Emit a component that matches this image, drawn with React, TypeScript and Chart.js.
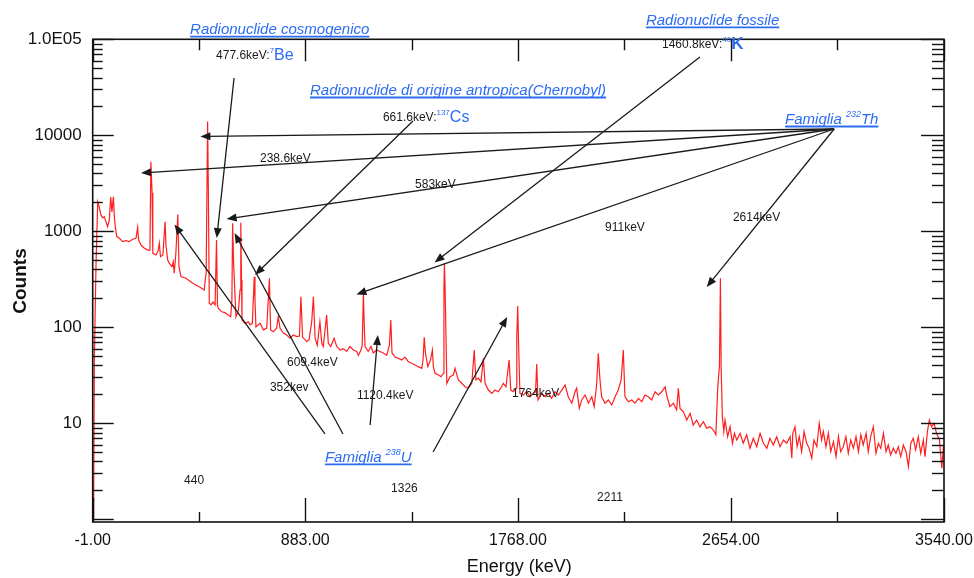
import React, { useEffect, useRef } from 'react';
import { Chart, registerables } from 'chart.js';

Chart.register(...registerables);

// ---- Spectrum (energy in keV, counts per channel) ----
const energyKeV = [
  2, 6, 13, 20, 26, 33, 41, 47, 54, 61, 68, 74, 79, 85, 89, 93, 99, 110, 124, 137,
  151, 165, 179, 186, 190, 200, 214, 228, 237, 241, 246, 249, 262, 271, 276, 281, 291, 300, 304, 311,
  318, 329, 334, 338, 345, 353, 358, 366, 387, 415, 442, 463, 467, 471, 477, 480, 484, 491, 499, 508,
  514, 518, 521, 536, 549, 563, 573, 578, 581, 585, 595, 605, 612, 615, 618, 620, 632, 646, 653, 663,
  671, 674, 678, 695, 709, 723, 734, 739, 750, 764, 771, 778, 792, 806, 820, 833, 848, 859, 865, 872,
  889, 899, 910, 917, 924, 933, 944, 952, 958, 972, 979, 989, 1003, 1014, 1028, 1041, 1055, 1069, 1083, 1097,
  1104, 1115, 1120, 1125, 1129, 1132, 1145, 1157, 1166, 1180, 1194, 1208, 1222, 1233, 1239, 1244, 1257, 1270, 1284, 1298,
  1312, 1326, 1340, 1353, 1368, 1373, 1378, 1383, 1393, 1404, 1412, 1416, 1423, 1437, 1448, 1457, 1460, 1462, 1465, 1472,
  1485, 1499, 1506, 1520, 1534, 1548, 1561, 1576, 1586, 1593, 1603, 1614, 1624, 1631, 1645, 1659, 1672, 1686, 1700, 1707,
  1718, 1731, 1738, 1749, 1760, 1763, 1767, 1770, 1776, 1790, 1804, 1818, 1832, 1841, 1846, 1851, 1867, 1881, 1894, 1908,
  1922, 1936, 1950, 1964, 1977, 1992, 2005, 2012, 2023, 2033, 2047, 2061, 2075, 2085, 2095, 2102, 2109, 2116, 2130, 2144,
  2158, 2172, 2185, 2197, 2206, 2213, 2227, 2241, 2255, 2269, 2283, 2296, 2310, 2324, 2338, 2352, 2366, 2380, 2388, 2400,
  2414, 2428, 2435, 2442, 2456, 2470, 2484, 2497, 2511, 2525, 2539, 2553, 2567, 2581, 2591, 2599, 2606, 2610, 2613, 2618,
  2624, 2629, 2640, 2650, 2660, 2668, 2678, 2692, 2705, 2719, 2733, 2747, 2761, 2775, 2789, 2803, 2816, 2830, 2844, 2858,
  2872, 2886, 2900, 2907, 2911, 2920, 2929, 2938, 2948, 2958, 2969, 2979, 2990, 2999, 3011, 3021, 3031, 3038, 3049, 3059,
  3069, 3080, 3091, 3101, 3110, 3121, 3132, 3142, 3152, 3163, 3174, 3184, 3194, 3204, 3216, 3225, 3235, 3246, 3257, 3267,
  3277, 3288, 3299, 3308, 3318, 3329, 3340, 3350, 3360, 3371, 3382, 3392, 3402, 3412, 3422, 3433, 3443, 3454, 3461, 3471,
  3479, 3488, 3499, 3509, 3521, 3531, 3538,
];

const counts = [
  0.5, 48, 480, 2030, 1800, 1480, 1380, 1420, 1260, 1120, 1310, 2280, 1590, 2290, 1420, 1120, 880, 846, 780, 798,
  780, 826, 846, 1100, 811, 719, 665, 638, 638, 5310, 2510, 590, 566, 623, 750, 543, 566, 1260, 703, 502,
  464, 428, 482, 365, 594, 1500, 428, 337, 324, 287, 265, 245, 311, 368, 13900, 2690, 178, 171, 183, 171,
  811, 171, 158, 145, 142, 134, 129, 192, 1210, 468, 129, 151, 245, 1230, 311, 119, 110, 114, 106, 110,
  337, 192, 101, 110, 94, 98, 324, 94, 90, 98, 129, 98, 87, 83, 77, 83, 80, 81, 208, 79,
  71, 74, 114, 208, 77, 65, 114, 68, 63, 134, 68, 63, 77, 63, 58, 60, 56, 63, 58, 56,
  51, 58, 65, 226, 94, 63, 56, 63, 54, 58, 56, 54, 51, 65, 119, 54, 49, 47.5, 45.6, 49,
  43.8, 42.2, 40.5, 38.9, 37.4, 45.6, 78.7, 54, 38.9, 45.6, 58, 38.9, 33.2, 31.8, 30.6, 33, 257, 464, 245, 26.1,
  30.6, 31.8, 37.4, 28.3, 26.1, 24, 23.2, 26.1, 58, 28.3, 29.6, 27, 47.5, 26.1, 22.2, 20.5, 22.2, 21.3, 24, 26.1,
  24, 45.6, 22.2, 21.3, 23.2, 80, 167, 74, 20.5, 19.7, 21.3, 18.9, 20.5, 21.2, 41.5, 17.5, 20.5, 18.9, 20.5, 18.2,
  21.3, 19.7, 22.2, 25.1, 18.9, 16.2, 21.3, 23.2, 14.3, 17.5, 19.7, 16.2, 18.9, 14.9, 25.1, 53.6, 28.3, 18.9, 16.2, 17.5,
  15.5, 18.9, 22.2, 28.3, 58, 18.9, 16.8, 17.5, 16.2, 18.2, 16.8, 19.7, 18.9, 17.5, 21.3, 19.7, 21.3, 24, 18.9, 14.9,
  16.2, 13.8, 23.2, 14.3, 13.2, 10.8, 12.7, 9.6, 10.8, 9.2, 10.4, 8.9, 9.2, 8.5, 7.6, 24, 39.5, 324, 38.9, 11.7,
  8.2, 10.8, 7.25, 9.2, 6.19, 7.87, 6.7, 7.87, 6.19, 7.6, 5.49, 6.98, 5.7, 7.87, 6.19, 5.49, 6.98, 5.94, 7.25, 5.7,
  6.7, 6.19, 7.25, 4.32, 7.87, 9.2, 5.7, 7.25, 5.06, 8.2, 6.19, 5.49, 4.32, 6.7, 5.7, 10, 6.7, 8.2, 5.7, 7.87,
  5.06, 6.43, 4.49, 7.25, 5.06, 5.7, 7.25, 4.87, 6.7, 5.49, 7.25, 5.06, 7.6, 5.94, 7.87, 5.06, 7.25, 9.2, 4.87, 6.19,
  5.49, 7.87, 5.06, 5.94, 4.68, 5.49, 4.87, 5.7, 4.49, 5.94, 5.06, 3.53, 6.19, 6.98, 5.3, 7.25, 4.87, 6.7, 4.49, 8.2,
  10.8, 9.2, 10, 7.87, 6.7, 3.4, 5.94,
];

// ---- Axes ----
const xMin = -1;
const xMax = 3540;
const yMin = 0.937;
const yMax = 100000;
const xMajorTicks = [-1, 883, 1768, 2654, 3540];
const xMajorLabels = ['-1.00', '883.00', '1768.00', '2654.00', '3540.00'];
const xMinorTicks = [441, 1326, 2211, 3097];
const yDecades = [1, 10, 100, 1000, 10000, 100000];
const yDecadeLabels = ['', '10', '100', '1000', '10000', '1.0E05'];
const yMinorSteps = [2, 3, 4, 5, 6, 7, 8, 9];

// ---- Annotations (anchored in keV / counts) ----
const BLUE = '#2b6cf2';
const INK = '#1a1a1a';

type Run = { t: string; size: number; color?: string; italic?: boolean; bold?: boolean; rise?: number };
type Note = { e: number; c: number; runs: Run[]; underline?: boolean };

const titleNotes: Note[] = [
  { e: 404, c: 131000, underline: true, runs: [{ t: 'Radionuclide cosmogenico', size: 15 }] },
  { e: 2300, c: 163000, underline: true, runs: [{ t: 'Radionuclide fossile', size: 15 }] },
  { e: 903, c: 30350, underline: true, runs: [{ t: 'Radionuclide di origine antropica(Chernobyl)', size: 15 }] },
  { e: 2879, c: 15140, underline: true, runs: [{ t: 'Famiglia ', size: 15 }, { t: '232', size: 9, rise: -5 }, { t: 'Th', size: 15 }] },
  { e: 965, c: 4.57, underline: true, runs: [{ t: 'Famiglia ', size: 15 }, { t: '238', size: 9, rise: -5 }, { t: 'U', size: 15 }] },
];

const peakNotes: Note[] = [
  { e: 512, c: 68600, runs: [{ t: '477.6keV:', size: 12 }, { t: '7', size: 8, color: BLUE, rise: -5 }, { t: 'Be', size: 16, color: BLUE }] },
  { e: 2367, c: 89350, runs: [{ t: '1460.8keV:', size: 12 }, { t: '40', size: 8, color: BLUE, rise: -5 }, { t: 'K', size: 17, color: BLUE, bold: true }] },
  { e: 1206, c: 15520, runs: [{ t: '661.6keV:', size: 12 }, { t: '137', size: 8, color: BLUE, rise: -5 }, { t: 'Cs', size: 16, color: BLUE }] },
  { e: 695, c: 5800, runs: [{ t: '238.6keV', size: 12 }] },
  { e: 1340, c: 3110, runs: [{ t: '583keV', size: 12 }] },
  { e: 2130, c: 1109, runs: [{ t: '911keV', size: 12 }] },
  { e: 2662, c: 1409, runs: [{ t: '2614keV', size: 12 }] },
  { e: 807, c: 43.5, runs: [{ t: '609.4keV', size: 12 }] },
  { e: 736, c: 23.9, runs: [{ t: '352kev', size: 12 }] },
  { e: 1098, c: 19.7, runs: [{ t: '1120.4keV', size: 12 }] },
  { e: 1743, c: 20.7, runs: [{ t: '1764keV', size: 12 }] },
  { e: 379, c: 2.57, runs: [{ t: '440', size: 12 }] },
  { e: 1240, c: 2.12, runs: [{ t: '1326', size: 12 }] },
  { e: 2097, c: 1.71, runs: [{ t: '2211', size: 12 }] },
];

const arrowNotes: { from: [number, number]; to: [number, number] }[] = [
  { from: [3083, 11630], to: [447, 9720] },
  { from: [3083, 11630], to: [200, 4050] },
  { from: [3083, 11630], to: [556, 1343] },
  { from: [3083, 11630], to: [1096, 220] },
  { from: [3083, 11630], to: [2553, 263] },
  { from: [965, 7.74], to: [339, 1177] },
  { from: [1040, 7.74], to: [589, 960] },
  { from: [1153, 9.6], to: [1185, 83] },
  { from: [1415, 5.02], to: [1723, 128] },
  { from: [587, 39530], to: [515, 851] },
  { from: [1331, 14090], to: [674, 351] },
  { from: [2525, 65440], to: [1421, 473] },
];

const FONT = '"Liberation Sans", Arial, Helvetica, sans-serif';

function fontOf(r: Run, forceItalic: boolean) {
  return `${forceItalic || r.italic ? 'italic ' : ''}${r.bold ? 'bold ' : ''}${r.size}px ${FONT}`;
}

const decorPlugin = {
  id: 'decor',
  afterDraw(chart: any) {
    const { ctx, chartArea: a, scales } = chart;
    const xs = scales.x;
    const ys = scales.y;
    const seg = (x1: number, y1: number, x2: number, y2: number) => {
      ctx.beginPath();
      ctx.moveTo(x1, y1);
      ctx.lineTo(x2, y2);
      ctx.stroke();
    };
    ctx.save();

    // frame
    ctx.strokeStyle = '#111';
    ctx.lineWidth = 1.6;
    ctx.strokeRect(a.left, a.top, a.right - a.left, a.bottom - a.top);

    // y ticks (inward, both sides)
    ctx.lineWidth = 1.4;
    yDecades.forEach((d) => {
      const vals = [{ v: d, major: true }, ...yMinorSteps.map((m) => ({ v: d * m, major: false }))];
      vals.forEach(({ v, major }) => {
        if (v < yMin || v > yMax) return;
        const py = Math.round(ys.getPixelForValue(v)) + 0.5;
        seg(a.left, py, a.left + (major ? 21 : 10), py);
        seg(a.right, py, a.right - (major ? 23 : 12), py);
      });
    });

    // x ticks (inward, top and bottom)
    xMajorTicks.forEach((v) => {
      const px = Math.round(xs.getPixelForValue(v)) + 0.5;
      seg(px, a.bottom, px, a.bottom - 24);
      seg(px, a.top, px, a.top + 22);
    });
    xMinorTicks.forEach((v) => {
      const px = Math.round(xs.getPixelForValue(v)) + 0.5;
      seg(px, a.bottom, px, a.bottom - 10);
      seg(px, a.top, px, a.top + 11);
    });

    // tick labels
    ctx.fillStyle = '#111';
    ctx.font = `17px ${FONT}`;
    ctx.textAlign = 'right';
    ctx.textBaseline = 'middle';
    yDecades.forEach((d, i) => {
      if (!yDecadeLabels[i]) return;
      ctx.fillText(yDecadeLabels[i], a.left - 11, ys.getPixelForValue(d));
    });
    ctx.font = `16px ${FONT}`;
    ctx.textAlign = 'center';
    xMajorTicks.forEach((v, i) => {
      ctx.fillText(xMajorLabels[i], xs.getPixelForValue(v), a.bottom + 19);
    });

    // axis titles
    ctx.font = `18px ${FONT}`;
    ctx.fillText('Energy (keV)', (a.left + a.right) / 2 + 1, a.bottom + 45);
    ctx.save();
    ctx.translate(21, 281);
    ctx.rotate(-Math.PI / 2);
    ctx.font = `bold 19px ${FONT}`;
    ctx.fillText('Counts', 0, 0);
    ctx.restore();

    // arrows
    ctx.strokeStyle = INK;
    ctx.fillStyle = INK;
    ctx.lineWidth = 1.3;
    arrowNotes.forEach(({ from, to }) => {
      const x1 = xs.getPixelForValue(from[0]);
      const y1 = ys.getPixelForValue(from[1]);
      const x2 = xs.getPixelForValue(to[0]);
      const y2 = ys.getPixelForValue(to[1]);
      const ang = Math.atan2(y2 - y1, x2 - x1);
      const L = 10;
      const W = 4;
      const cos = Math.cos(ang);
      const sin = Math.sin(ang);
      seg(x1, y1, x2 - cos * 6, y2 - sin * 6);
      ctx.beginPath();
      ctx.moveTo(x2, y2);
      ctx.lineTo(x2 - L * cos + W * sin, y2 - L * sin - W * cos);
      ctx.lineTo(x2 - L * cos - W * sin, y2 - L * sin + W * cos);
      ctx.closePath();
      ctx.fill();
    });

    // notes
    const drawNote = (n: Note, isTitle: boolean) => {
      const x0 = xs.getPixelForValue(n.e);
      const y0 = ys.getPixelForValue(n.c) + (isTitle ? 1.5 : 0.5);
      let cx = x0;
      ctx.textAlign = 'left';
      ctx.textBaseline = 'middle';
      n.runs.forEach((r) => {
        ctx.font = fontOf(r, isTitle);
        ctx.fillStyle = isTitle ? BLUE : r.color || INK;
        ctx.fillText(r.t, cx, y0 + (r.rise || 0));
        cx += ctx.measureText(r.t).width;
      });
      if (n.underline) {
        ctx.strokeStyle = BLUE;
        ctx.lineWidth = 1.8;
        seg(x0, y0 + 7, cx, y0 + 7);
      }
    };
    titleNotes.forEach((n) => drawNote(n, true));
    peakNotes.forEach((n) => drawNote(n, false));

    ctx.restore();
  },
};

export default function App() {
  const ref = useRef<HTMLCanvasElement>(null);
  useEffect(() => {
    const canvas = ref.current;
    if (!canvas) return;
    const chart = new Chart(canvas, {
      type: 'line',
      data: {
        datasets: [
          {
            data: energyKeV.map((e, i) => ({ x: e, y: counts[i] })),
            borderColor: '#ff1f1f',
            borderWidth: 1.2,
            pointRadius: 0,
            tension: 0,
            fill: false,
          },
        ],
      },
      options: {
        responsive: false,
        animation: false,
        events: [],
        layout: { padding: { left: 92.7, top: 39.3, right: 30, bottom: 56 } },
        scales: {
          x: { type: 'linear', min: xMin, max: xMax, display: false },
          y: { type: 'logarithmic', min: yMin, max: yMax, display: false },
        },
        plugins: { legend: { display: false }, tooltip: { enabled: false }, title: { display: false } },
      },
      plugins: [decorPlugin],
    } as any);
    return () => chart.destroy();
  }, []);
  return (
    <div style={{ position: 'fixed', left: 0, top: 0, width: 974, height: 578, background: '#fff' }}>
      <canvas ref={ref} width={974} height={578} style={{ display: 'block' }} />
    </div>
  );
}
